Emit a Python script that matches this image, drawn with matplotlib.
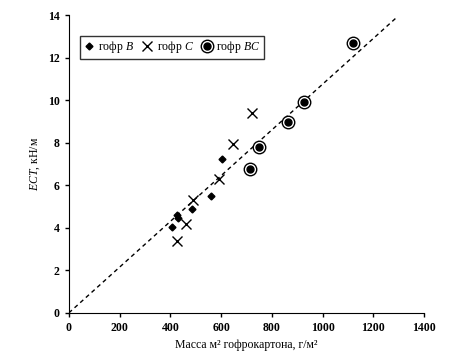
import matplotlib.pyplot as plt
from matplotlib.legend_handler import HandlerTuple
import numpy as np

plt.rcParams['font.family'] = ['Liberation Serif', 'DejaVu Serif']
plt.rcParams['mathtext.fontset'] = 'custom'
plt.rcParams['mathtext.rm'] = 'Liberation Serif'
plt.rcParams['mathtext.it'] = 'Liberation Serif:italic'

# гофр B
b_x = [405, 425, 432, 485, 560, 605]
b_y = [4.05, 4.6, 4.46, 4.9, 5.5, 7.25]
# гофр C
c_x = [425, 460, 490, 590, 645, 720]
c_y = [3.4, 4.2, 5.3, 6.3, 7.95, 9.4]
# гофр BC
bc_x = [713, 750, 865, 925, 1120]
bc_y = [6.75, 7.8, 8.95, 9.9, 12.7]
# линия тренда
fit_x = [0, 1290]
slope = 0.01075

fig = plt.figure(figsize=(4.56, 3.58), dpi=100)
ax = fig.add_axes([0.151, 0.126, 0.779, 0.832])

ax.plot(fit_x, np.array(fit_x) * slope, 'k--', lw=1, dashes=(3, 2.5))
hb, = ax.plot(b_x, b_y, 'D', color='k', ms=3.5, ls='none')
hc, = ax.plot(c_x, c_y, 'x', color='k', ms=7, mew=1, ls='none')
hbc1, = ax.plot(bc_x, bc_y, 'o', mfc='white', mec='k', ms=9, mew=1, ls='none')
hbc2, = ax.plot(bc_x, bc_y, 'o', color='k', ms=5, ls='none')

ax.set_xlim(0, 1400)
ax.set_ylim(0, 14)
ax.set_xticks(range(0, 1401, 200))
ax.set_yticks(range(0, 15, 2))
for s in ['top', 'right']:
    ax.spines[s].set_visible(False)
ax.tick_params(direction='out', length=3, labelsize=8.5, width=1)
for lbl in ax.get_xticklabels() + ax.get_yticklabels():
    lbl.set_fontweight('bold')

ax.set_xlabel('Масса м² гофрокартона, г/м²', fontsize=8.5)
ax.set_ylabel('$ECT$, кН/м', fontsize=8.5)

leg = ax.legend([hb, hc, (hbc1, hbc2)], ['гофр $B$', 'гофр $C$', 'гофр $BC$'],
                handler_map={tuple: HandlerTuple(ndivide=1, pad=0)},
                loc='upper left', bbox_to_anchor=(0.03, 0.93), ncol=3,
                fontsize=8.5, frameon=True, fancybox=False, edgecolor='k',
                handlelength=1.0, handletextpad=0.3, columnspacing=0.6,
                borderpad=0.3, borderaxespad=0)
leg.get_frame().set_linewidth(1)

fig.savefig('out.png', dpi=100)
